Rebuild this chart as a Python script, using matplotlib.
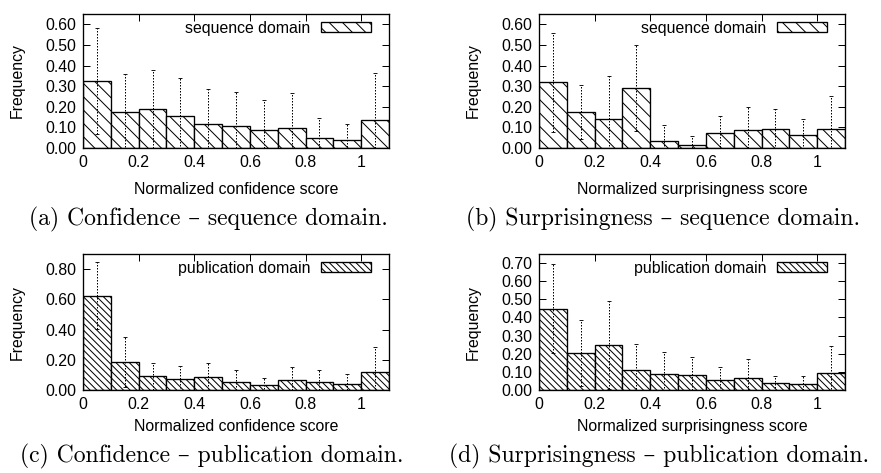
import numpy as np
import matplotlib
matplotlib.use("Agg")
import matplotlib.pyplot as plt
from matplotlib.ticker import FormatStrFormatter

# ==========================================
# Datos
# ==========================================
bins = np.arange(0.05, 1.1, 0.1)  # centros de las 11 barras

conf_seq = [0.325, 0.174, 0.190, 0.153, 0.116, 0.106, 0.087, 0.098, 0.050, 0.040, 0.137]
conf_seq_top = [0.584, 0.360, 0.378, 0.341, 0.285, 0.270, 0.233, 0.265, 0.146, 0.117, 0.362]

surp_seq = [0.318, 0.174, 0.142, 0.290, 0.032, 0.013, 0.072, 0.087, 0.092, 0.061, 0.092]
surp_seq_top = [0.560, 0.304, 0.349, 0.499, 0.113, 0.056, 0.156, 0.201, 0.188, 0.140, 0.254]

conf_pub = [0.625, 0.188, 0.090, 0.075, 0.084, 0.055, 0.035, 0.064, 0.055, 0.042, 0.117]
conf_pub_top = [0.849, 0.354, 0.181, 0.157, 0.179, 0.130, 0.082, 0.150, 0.130, 0.106, 0.287]

surp_pub = [0.449, 0.203, 0.247, 0.112, 0.087, 0.083, 0.053, 0.068, 0.037, 0.031, 0.092]
surp_pub_top = [0.696, 0.385, 0.490, 0.252, 0.210, 0.184, 0.129, 0.171, 0.079, 0.079, 0.243]

xticks = [0, 0.2, 0.4, 0.6, 0.8, 1.0]
xticklabels = ["0", "0.2", "0.4", "0.6", "0.8", "1"]

captions = ["(a) Confidence \u2013 sequence domain.",
            "(b) Surprisingness \u2013 sequence domain.",
            "(c) Confidence \u2013 publication domain.",
            "(d) Surprisingness \u2013 publication domain."]

# ==========================================
# Estilo
# ==========================================
DPI = 80
W, H = 881, 473
plt.rcParams['font.family'] = ['Liberation Sans', 'DejaVu Sans']
plt.rcParams['hatch.linewidth'] = 0.9
FS = 14.3


def px_x(p):
    return p / W


def px_y(p):
    return 1 - p / H


def panel(fig, left, top, bottom, means, tops, label, hatch, ylim, yticks, xlabel, xlab_y):
    ax = fig.add_axes([px_x(left), px_y(bottom), 306 / W, (bottom - top) / H])
    ax.bar(bins, means, width=0.1, color='white', edgecolor='black',
           linewidth=1.2, hatch=hatch, label=label, zorder=2)
    err = np.array(tops) - np.array(means)
    eb = ax.errorbar(bins, means, yerr=err, fmt='none', ecolor='black',
                     elinewidth=0.9, capsize=2.2, capthick=0.8, zorder=3)
    eb.lines[2][0].set_linestyle((0, (1.5, 1.5)))
    ax.set_xlim(0, 1.1)
    ax.set_ylim(*ylim)
    ax.set_xticks(xticks)
    ax.set_xticklabels(xticklabels)
    ax.set_yticks(yticks)
    ax.yaxis.set_major_formatter(FormatStrFormatter('%.2f'))
    ax.tick_params(direction='in', top=True, right=True, length=6, width=0.9,
                   labelsize=FS, pad=6)
    for s in ax.spines.values():
        s.set_linewidth(1.2)
    ax.set_ylabel("Frequency", fontsize=FS)
    ax.yaxis.set_label_coords(-0.19, 0.5)
    ax.set_xlabel(xlabel, fontsize=FS, va='center')
    ax.xaxis.set_label_coords(0.5, xlab_y)
    ax.legend(loc='upper right', bbox_to_anchor=(0.94, 0.95), frameon=False,
              markerfirst=False, fontsize=FS, handlelength=3.1, handleheight=0.6,
              borderpad=0, borderaxespad=0, handletextpad=0.7)
    return ax


fig = plt.figure(figsize=(W / DPI, H / DPI), dpi=DPI)

panel(fig, 83, 14, 148, conf_seq, conf_seq_top, "sequence domain", "\\\\",
      (0, 0.65), np.arange(0, 0.61, 0.1), "Normalized confidence score", -0.31)
panel(fig, 539, 14, 148, surp_seq, surp_seq_top, "sequence domain", "\\\\",
      (0, 0.65), np.arange(0, 0.61, 0.1), "Normalized surprisingness score", -0.31)
panel(fig, 83, 254, 390, conf_pub, conf_pub_top, "publication domain", "\\\\\\\\",
      (0, 0.9), np.arange(0, 0.81, 0.2), "Normalized confidence score", -0.27)
panel(fig, 539, 254, 390, surp_pub, surp_pub_top, "publication domain", "\\\\\\\\",
      (0, 0.75), np.arange(0, 0.71, 0.1), "Normalized surprisingness score", -0.27)

cap_pos = [(208, 219), (663, 219), (212, 456), (659, 456)]
for (cx, cy), txt in zip(cap_pos, captions):
    fig.text(px_x(cx), px_y(cy), txt, ha='center', va='center', fontsize=21.3,
             family=['cmr10', 'DejaVu Serif'])

fig.savefig("out.png", dpi=DPI)
